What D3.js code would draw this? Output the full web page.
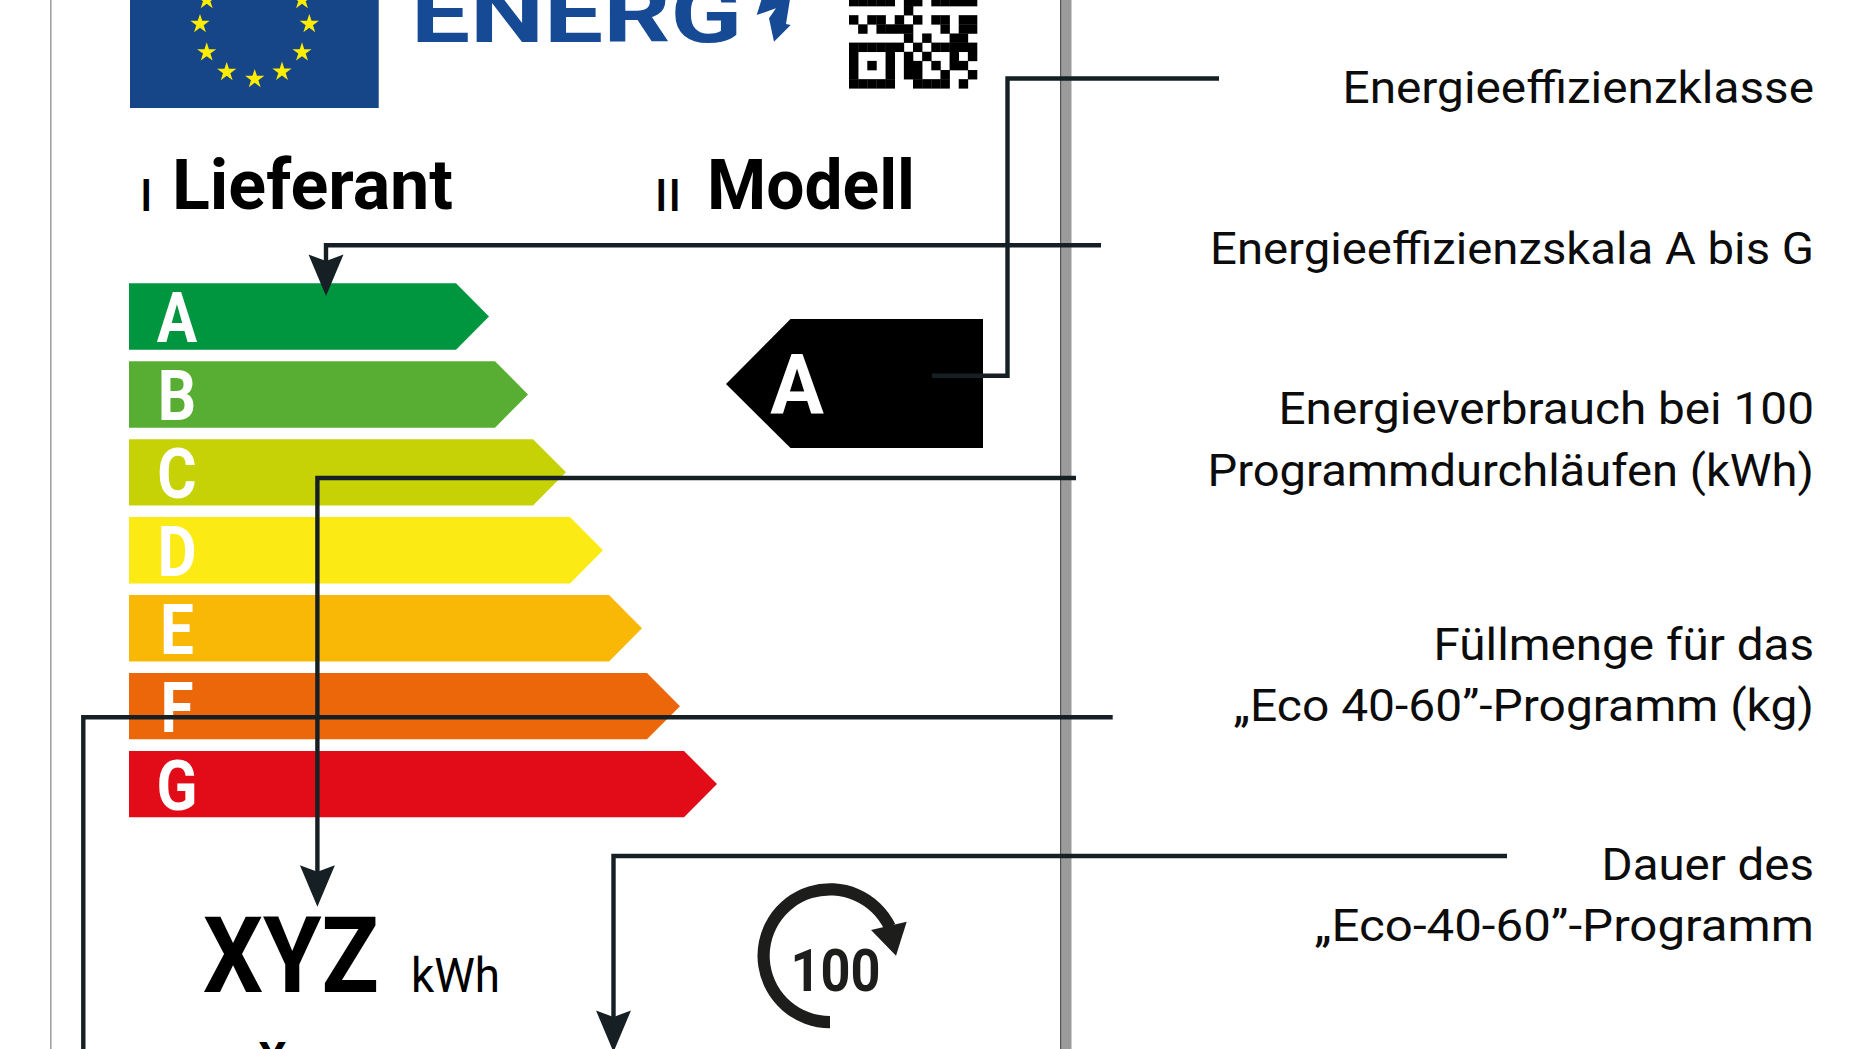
<!DOCTYPE html>
<html lang="de">
<head>
<meta charset="utf-8">
<title>Energielabel</title>
<script src="https://cdn.jsdelivr.net/npm/d3@7"></script>
<style>
html, body { margin: 0; padding: 0; background: #fff; overflow: hidden; }
svg { display: block; }
text { font-family: Roboto, "Noto Sans", sans-serif; }
</style>
</head>
<body>
<div class="label"></div>
<script>
// values
const classes = ['A', 'B', 'C', 'D', 'E', 'F', 'G'];
const classColours = ['#009640', '#58ae33', '#c6d206', '#fcea14', '#fab806', '#ec670a', '#e20c18'];
const classLengths = [327, 366, 404, 441, 480, 518, 555];

const captionTexts = ['Energieeffizienzklasse', 'Energieeffizienzskala A bis G', 'Energieverbrauch bei 100',
	'Programmdurchläufen (kWh)', 'Füllmenge für das', '„Eco 40-60”-Programm (kg)', 'Dauer des', '„Eco-40-60”-Programm'];
const captionLeft = [1342.5, 1210, 1278.5, 1207.5, 1433.5, 1233.5, 1601.5, 1314.5];
const captionBase = [103, 263.5, 424, 485.5, 660, 721, 879.5, 941];

// the little code in the corner, one string per row
const qrRows = [
	'11111011011111',
	'00000010000000',
	'10110101011011',
	'01011110001011',
	'00000010100110',
	'11111101011111',
	'10001010100101',
	'10101011010110',
	'10001011001001',
	'11111001111010'
];

// the stars that are still inside the crop
const starsX = [206.7, 302, 200, 309.3, 206.7, 302, 226.7, 254.7, 282];
const starsY = [0, 0, 24, 24, 52.3, 52.3, 72, 79, 71.7];

const width = 1864;
const height = 1049;

const svg = d3.select('.label')
	.append('svg')
	.attr('width', width)
	.attr('height', height)

svg.append('rect').attr('width', width).attr('height', height).attr('fill', '#fff')

// card edges
svg.append('rect').attr('x', 50).attr('y', 0).attr('width', 1.6).attr('height', height).attr('fill', '#a3a3a3')
svg.append('rect').attr('x', 1060).attr('y', 0).attr('width', 11.5).attr('height', height).attr('fill', '#9b9b9b')
svg.append('rect').attr('x', 1060).attr('y', 0).attr('width', 1.2).attr('height', height).attr('fill', '#555')

// flag
svg.append('rect').attr('x', 130).attr('y', -10).attr('width', 248.7).attr('height', 118).attr('fill', '#164588')
svg.selectAll('.star')
	.data(starsX)
	.enter()
	.append('path')
	.attr('d', d3.symbol(d3.symbolStar, 115))
	.attr('transform', (d, i) => 'translate(' + d + ',' + starsY[i] + ')')
	.attr('fill', '#ffed00')

// ENERG wordmark, cut off by the top of the picture
svg.append('text')
	.attr('x', 411)
	.attr('y', 41.7)
	.attr('textLength', 331)
	.attr('lengthAdjust', 'spacingAndGlyphs')
	.attr('font-size', 82)
	.attr('font-weight', 700)
	.attr('fill', '#164a94')
	.text('ENERG')

const bolt = [[790, -1], [761.7, -1], [756.7, 15], [776, 8.3], [769, 18.3], [774, 41.7], [790.7, 25], [786, 24]];
svg.append('polygon')
	.attr('points', bolt.map(p => p.join(',')).join(' '))
	.attr('fill', '#164a94')

// qr code
const qrX = d3.scaleLinear().domain([0, 14]).range([849, 977]);
const qrY = d3.scaleLinear().domain([0, 10]).range([-3.1, 88.3]);
qrRows.forEach(function(row, r) {
	row.split('').forEach(function(cell, c) {
		if (cell === '1') {
			svg.append('rect')
				.attr('x', qrX(c))
				.attr('y', qrY(r))
				.attr('width', qrX(1) - qrX(0) + 0.3)
				.attr('height', qrY(1) - qrY(0) + 0.3)
				.attr('fill', '#000')
		}
	})
})

// supplier and model
const heading = svg.append('g').attr('font-weight', 700).attr('fill', '#000').attr('font-size', 70);
heading.append('text').attr('x', 172).attr('y', 208.5).attr('textLength', 281).attr('lengthAdjust', 'spacingAndGlyphs').text('Lieferant')
heading.append('text').attr('x', 707).attr('y', 208.5).attr('textLength', 208).attr('lengthAdjust', 'spacingAndGlyphs').text('Modell')
const marks = svg.append('g').attr('font-size', 44).attr('fill', '#000').attr('font-weight', 500);
marks.append('text').attr('x', 146.3).attr('y', 210.5).attr('text-anchor', 'middle').text('I')
marks.append('text').attr('x', 668).attr('y', 210.5).attr('text-anchor', 'middle').attr('textLength', 26).text('II')

// scale bars
const y = d3.scaleBand().domain(classes).range([283.3, 817.3]).paddingInner(0.148).paddingOuter(0);
const x = d3.scaleLinear().domain([0, 600]).range([129, 729]);
const tip = 33;

svg.selectAll('.bar')
	.data(classes)
	.enter()
	.append('polygon')
	.attr('points', function(d, i) {
		const top = y(d), h = y.bandwidth(), end = x(classLengths[i]);
		return [[x(0), top], [end, top], [end + tip, top + h / 2], [end, top + h], [x(0), top + h]].map(p => p.join(',')).join(' ')
	})
	.attr('fill', (d, i) => classColours[i])

svg.selectAll('.letter')
	.data(classes)
	.enter()
	.append('text')
	.attr('transform', d => 'translate(177,' + (y(d) + 59) + ') scale(0.86,1)')
	.attr('text-anchor', 'middle')
	.attr('font-size', 70)
	.attr('font-weight', 700)
	.attr('fill', '#fff')
	.text(d => d)

// this model's class
svg.append('polygon')
	.attr('points', [[726, 384], [790.5, 319], [983, 319], [983, 448], [790.5, 448]].map(p => p.join(',')).join(' '))
	.attr('fill', '#000')
svg.append('text')
	.attr('transform', 'translate(797,414) scale(0.95,1)')
	.attr('text-anchor', 'middle')
	.attr('font-size', 84)
	.attr('font-weight', 700)
	.attr('fill', '#fff')
	.text(classes[0])

// consumption value
svg.append('text')
	.attr('x', 203).attr('y', 992)
	.attr('textLength', 176).attr('lengthAdjust', 'spacingAndGlyphs')
	.attr('font-size', 105).attr('font-weight', 700).attr('fill', '#000')
	.text('XYZ')
svg.append('text')
	.attr('x', 411).attr('y', 992)
	.attr('textLength', 89).attr('lengthAdjust', 'spacingAndGlyphs')
	.attr('font-size', 49).attr('fill', '#000')
	.text('kWh')
svg.append('text')
	.attr('x', 272.5).attr('y', 1074)
	.attr('text-anchor', 'middle')
	.attr('font-size', 44).attr('font-weight', 700).attr('fill', '#000')
	.text('X')

// 100 cycles icon
const ring = d3.arc().innerRadius(60.3).outerRadius(72.5).startAngle(-Math.PI).endAngle(1.12);
svg.append('path')
	.attr('d', ring())
	.attr('transform', 'translate(830,955.7)')
	.attr('fill', '#1d1d1b')
svg.append('polygon')
	.attr('points', '871,930 906.7,921.7 896,955.7')
	.attr('fill', '#1d1d1b')
svg.append('text')
	.attr('x', 790.5).attr('y', 990.7)
	.attr('textLength', 90).attr('lengthAdjust', 'spacingAndGlyphs')
	.attr('font-size', 60).attr('font-weight', 700).attr('fill', '#1d1d1b')
	.text('100')

// leader lines
const leaderColour = '#162024';
const leaders = [
	[[1219, 78.5], [1007.5, 78.5], [1007.5, 375.7], [932, 375.7]],
	[[1101, 245.3], [326, 245.3], [326, 270]],
	[[1076, 478], [317.4, 478], [317.4, 880]],
	[[1112.7, 717.3], [83.3, 717.3], [83.3, 1052]],
	[[1507, 856], [613.5, 856], [613.5, 1025]]
];
const arrowTips = [[326, 296], [317.4, 906.7], [613.5, 1052]];

const line = d3.line();
svg.selectAll('.leader')
	.data(leaders)
	.enter()
	.append('path')
	.attr('d', line)
	.attr('fill', 'none')
	.attr('stroke', leaderColour)
	.attr('stroke-width', 4.4)

svg.selectAll('.arrow')
	.data(arrowTips)
	.enter()
	.append('polygon')
	.attr('points', d => [[d[0], d[1]], [d[0] - 17.5, d[1] - 41.5], [d[0], d[1] - 35], [d[0] + 17.5, d[1] - 41.5]].map(p => p.join(',')).join(' '))
	.attr('fill', leaderColour)

// captions on the right
svg.selectAll('.caption')
	.data(captionTexts)
	.enter()
	.append('text')
	.attr('x', (d, i) => captionLeft[i])
	.attr('y', (d, i) => captionBase[i])
	.attr('textLength', (d, i) => 1814 - captionLeft[i])
	.attr('lengthAdjust', 'spacingAndGlyphs')
	.attr('font-size', 45)
	.attr('fill', '#0c0c0c')
	.text(d => d)
</script>
</body>
</html>
